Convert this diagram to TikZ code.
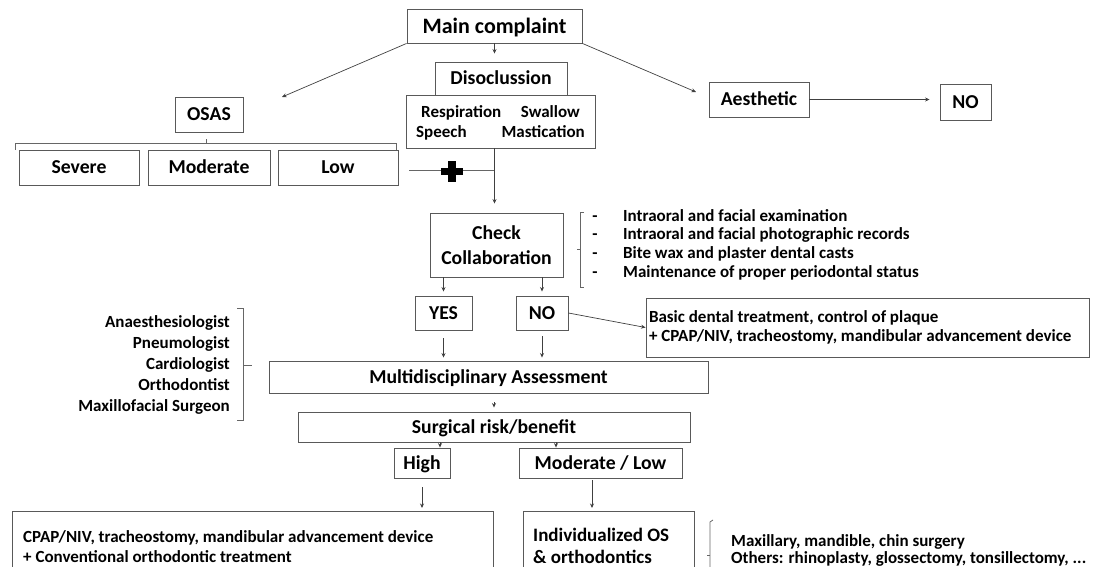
\documentclass[tikz,border=0pt]{standalone}
\usepackage{fontspec}
\setmainfont{Carlito}
\usetikzlibrary{arrows.meta}
\begin{document}
\begin{tikzpicture}[x=1pt,y=-1pt,
  frame/.style={draw=black!65, line width=0.9pt},
  box/.style={frame, inner sep=0pt, text height=12.7pt, text depth=0pt, font=\bfseries\fontsize{19.7}{22}\selectfont},
  bigbox/.style={box, text height=14.2pt, font=\bfseries\fontsize{22}{25}\selectfont},
  arr/.style={draw=black!75, line width=0.7pt, -{Stealth[length=4.5pt,width=4pt]}},
  ln/.style={draw=black!60, line width=0.8pt},
  txt/.style={inner sep=0pt, font=\bfseries\fontsize{17}{20}\selectfont}
]
\useasboundingbox (0,0) rectangle (1109,567);
\clip (0,0) rectangle (1109,567);

% top row
\node[bigbox, minimum width=175, minimum height=34] (main) at (494.5,26) {Main complaint};
\node[box, minimum width=132, minimum height=33] (disoc) at (501,78.5) {Disoclussion};
\node[frame, minimum width=189, minimum height=53] (resp) at (500.5,121.5) {};
\node[txt, anchor=base west] (t1) at (421,117.5) {Respiration};
\node[txt, anchor=base west] (t2) at (416,137.5) {Speech};
\node[txt, anchor=base east] (t3) at (580,117.5) {Swallow};
\node[txt, anchor=base east] (t4) at (585,137.5) {Mastication};

\node[box, minimum width=68, minimum height=35] (osas) at (209,114.5) {OSAS};
\node[box, minimum width=100, minimum height=35] (aesth) at (759,99.5) {Aesthetic};
\node[box, minimum width=51, minimum height=36] (no1) at (965.5,102) {NO};

\node[box, minimum width=120, minimum height=35] (sev) at (79,167.5) {Severe};
\node[box, minimum width=122, minimum height=35] (mod) at (209,167.5) {Moderate};
\node[box, minimum width=120, minimum height=35] (low) at (338,167.5) {Low};

\coordinate (osasend) at (282,97);
\coordinate (aesend) at (696,92);
\draw[arr] (main.south west) -- (osasend);
\draw[arr] (main.south east) -- (aesend);
\draw[arr, shorten >=8pt] (main.south) -- (disoc.north -| main.south);
\draw[arr, shorten >=10pt] (aesth.east) -- (aesth.east -| no1.west);

% OSAS bracket
\draw[ln] (15,150) -- (15,143) -- (396,143) -- (396,150);
\draw[ln] (206,143) -- (206,139);

% plus
\draw[ln] (409,170) -- (441,170);
\draw[ln] (463,170) -- (495,170);
\fill[black] (441,168) rectangle (463,175);
\fill[black] (448,161) rectangle (456,182);

% check collaboration
\node[frame, minimum width=133, minimum height=64, inner sep=0pt, align=center, font=\bfseries\fontsize{19.7}{25}\selectfont] (check) at (496.5,245) {Check\\Collaboration};
\draw[arr, shorten >=9pt] (resp.south -| main.south) -- (check.north -| main.south);

\draw[ln] (584,212) -- (580,212) -- (580,287) -- (584,287);
\draw[ln] (580,249) -- (577,249);
\foreach \yy/\tt [count=\i] in {221.5/Intraoral and facial examination, 240/Intraoral and facial photographic records, 258.5/Bite wax and plaster dental casts, 277.5/Maintenance of proper periodontal status}{
  \node[txt, anchor=base west] (b\i) at (623,\yy) {\tt};
  \node[txt, anchor=base] (d\i) at (595,\yy) {-};
}

\node[box, minimum width=57, minimum height=34] (yes) at (443.5,313) {YES};
\node[box, minimum width=52, minimum height=34] (no2) at (542,313) {NO};
\draw[arr, shorten >=4pt] (check.south -| yes.north) -- (yes.north);
\draw[arr, shorten >=4pt] (check.south -| no2.north) -- (no2.north);

\node[frame, minimum width=443, minimum height=59, text width=437, inner xsep=3pt, inner ysep=0pt, align=flush left, font=\bfseries\fontsize{17}{18.5}\selectfont] (basic) at (867.5,327.5) {Basic dental treatment, control of plaque\\+ CPAP/NIV, tracheostomy, mandibular advancement device};
\draw[arr] (no2.east) -- (basic.west);

% left list
\node[txt, anchor=east, align=right, font=\bfseries\fontsize{17}{20.8}\selectfont] (list) at (230,365) {Anaesthesiologist\\Pneumologist\\Cardiologist\\Orthodontist\\Maxillofacial Surgeon};
\draw[ln] (237,308) -- (243,308) -- (243,420) -- (237,420);
\draw[ln] (243,365) -- (252,365);

\node[box, minimum width=439, minimum height=32] (multi) at (488.5,377) {Multidisciplinary Assessment};
\draw[arr, shorten <=8pt, shorten >=3pt] (yes.south) -- (multi.north -| yes.south);
\draw[arr, shorten <=6pt, shorten >=3pt] (no2.south) -- (multi.north -| no2.south);

\node[box, minimum width=392, minimum height=30] (surg) at (494,427) {Surgical risk/benefit};
\draw[arr, shorten <=9pt, shorten >=4pt] (multi.south -| surg.north) -- (surg.north);

\node[box, minimum width=56, minimum height=30] (high) at (422,463) {High};
\node[box, minimum width=163, minimum height=30] (modlow) at (600.5,463) {Moderate / Low};
\draw[arr] (surg.south -| 440,0) -- (high.north -| 440,0);
\draw[arr] (surg.south -| 556,0) -- (modlow.north -| 556,0);

% bottom boxes (run past the lower edge, as in the reference)
\node[frame, anchor=north west, minimum width=481, minimum height=80, inner sep=0pt] (res1) at (12,511) {};
\node[txt, anchor=base west, align=flush left, font=\bfseries\fontsize{17}{20}\selectfont] (res1t) at (23,542.5) {CPAP/NIV, tracheostomy, mandibular advancement device};
\node[txt, anchor=base west] (res1u) at (23,562.5) {+ Conventional orthodontic treatment};
\node[frame, anchor=north west, minimum width=171, minimum height=80, inner sep=0pt] (res2) at (523,511) {};
\node[txt, anchor=base west, font=\bfseries\fontsize{19}{22}\selectfont] (res2t) at (533,541) {Individualized OS};
\node[txt, anchor=base west, font=\bfseries\fontsize{19}{22}\selectfont] (res2u) at (533,563) {\& orthodontics};
\draw[arr, shorten <=9pt, shorten >=3pt] (high.south) -- (res1.north -| high.south);
\draw[arr, shorten <=2pt, shorten >=3pt] (modlow.south -| 592,0) -- (res2.north -| 592,0);

\draw[ln] (713,520) -- (710,522) -- (710,575);
\draw[ln] (710,555) -- (707,555);
\node[txt, anchor=base west] (s1) at (731,546.5) {Maxillary, mandible, chin surgery};
\node[txt, anchor=base west] (s2) at (731,563.5) {Others: rhinoplasty, glossectomy, tonsillectomy, ...};
\end{tikzpicture}
\end{document}
